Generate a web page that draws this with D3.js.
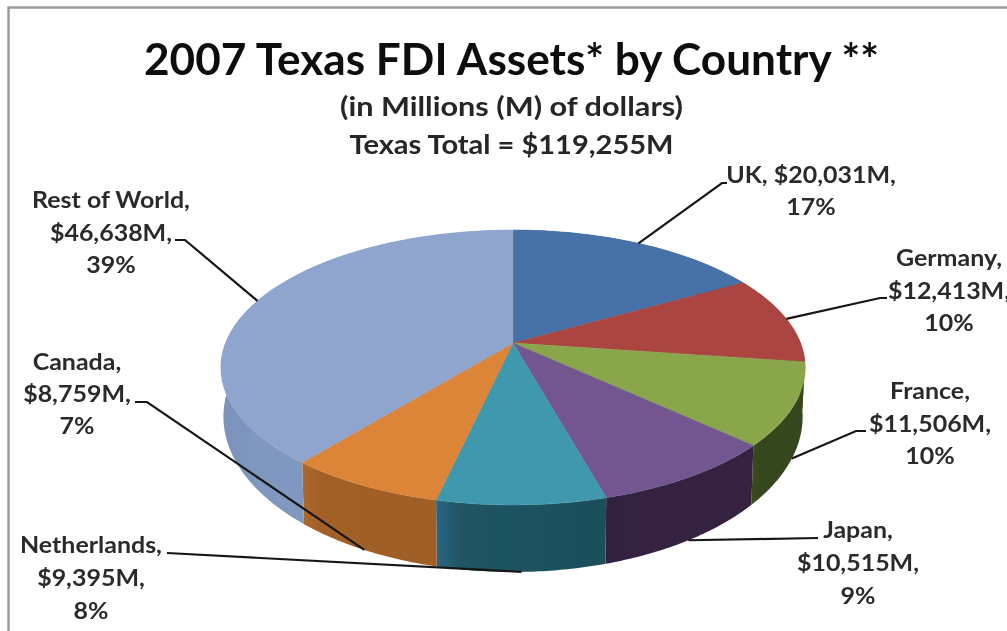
<!DOCTYPE html>
<html><head><meta charset="utf-8">
<script src="https://cdn.jsdelivr.net/npm/d3@7"></script>
<style>html,body{margin:0;padding:0;background:#fff;overflow:hidden}svg{display:block}text{font-family:Lato,"Open Sans",sans-serif;font-weight:700}</style>
</head><body><svg id="c" width="1007" height="631"></svg>
<script>
// data
const countries = ["UK","Germany","France","Japan","Netherlands","Canada","Rest of World"];
const assets = [20031,12413,11506,10515,9395,8759,46638];
const shares = [17,10,10,9,8,7,39];
const titleLines = ["2007 Texas FDI Assets* by Country **","(in Millions (M) of dollars)","Texas Total = $119,255M"];
// styles
const topColors = ["#4672a8","#ab4543","#8aa64c","#73568f","#3f98ae","#dc8438","#8fa5cd"];
const sideColors = [["#35567f","#35567f"],["#7f3331","#7f3331"],["#3c4d1d","#34461a"],["#2f2140","#35233f"],["#2a6684","#1d4f5b"],["#ad692c","#9f5e26"],["#7b93bb","#8199c0"]];
// label layout: centre x, first line y (centre), and leader route
const labelLayout = [
 {cx:811,y:175,lh:32,ring:"top",route:[[722,183],[727,183]]},
 {cx:949,y:258,lh:32.5,ring:"top",route:[[880,298],[887,298]]},
 {cx:930,y:391,lh:32.5,ring:"bottom",route:[[856,431],[866,431]]},
 {cx:858,y:530,lh:33,ring:"bottom",route:[[818,538]]},
 {cx:91,y:545,lh:33,ring:"bottom",route:[[167,553]]},
 {cx:77,y:362,lh:32,ring:"bottom",route:[[147,402],[135,402]]},
 {cx:111,y:200,lh:32.5,ring:"top",route:[[185,240],[175,240]]}
];
const svg = d3.select("#c");
const defs = svg.append("defs");
defs.append("filter").attr("id","soft").attr("x","-5%").attr("y","-5%").attr("width","110%").attr("height","110%")
  .append("feGaussianBlur").attr("stdDeviation",0.7);
const root = svg.append("g").attr("filter","url(#soft)");

// frame
root.append("path").attr("d",d3.line()([[8.5,631],[8.5,7.5],[1007,7.5]])).attr("fill","none").attr("stroke","#999").attr("stroke-width",2.4);

// perspective disc: k tilts the unit circle so the pie centre sits above the ellipse centre
const k = 0.178;
const rings = {
  top:{x:d3.scaleLinear().domain([0,1]).range([513,800.5]), y:d3.scaleLinear().domain([0,1]).range([343,476.1])},
  bottom:{x:d3.scaleLinear().domain([0,1]).range([513,798]), y:d3.scaleLinear().domain([0,1]).range([389,539.4])}
};
function project(a, ring){
  const u=Math.sin(a), v=-Math.cos(a), w=1-k*v;
  return [rings[ring].x(u/w), rings[ring].y(v/w)];
}
const pie = d3.pie().sort(null).value(d=>d);
const arcs = pie(assets);
const sample = (a0,a1)=>d3.range(0,1.0001,1/48).map(t=>a0+(a1-a0)*t);
const line = d3.line();

// side walls
arcs.forEach((d,i)=>{
  const id="side"+i;
  const g=defs.append("linearGradient").attr("id",id);
  g.append("stop").attr("offset","0%").attr("stop-color",sideColors[i][0]);
  g.append("stop").attr("offset","14%").attr("stop-color",d3.interpolateRgb(sideColors[i][0],sideColors[i][1])(0.8));
  g.append("stop").attr("offset","100%").attr("stop-color",sideColors[i][1]);
  const as=sample(d.startAngle,d.endAngle);
  const pts=as.map(a=>project(a,"top")).concat(as.slice().reverse().map(a=>project(a,"bottom")));
  root.append("path").attr("d",line(pts)+"Z").attr("fill",`url(#${id})`);
});
// top faces
arcs.forEach((d,i)=>{
  const pts=[[rings.top.x(0),rings.top.y(0)]].concat(sample(d.startAngle,d.endAngle).map(a=>project(a,"top")));
  root.append("path").attr("d",line(pts)+"Z").attr("fill",topColors[i]).attr("stroke",topColors[i]).attr("stroke-width",0.5);
});
// leaders
arcs.forEach((d,i)=>{
  const L=labelLayout[i];
  const anchor=project((d.startAngle+d.endAngle)/2,L.ring);
  root.append("path").attr("d",line([anchor].concat(L.route))).attr("fill","none").attr("stroke","#161616").attr("stroke-width",2.2);
});
// labels: stretched horizontally like the reference
const money=d3.format(",");
countries.forEach((c,i)=>{
  const L=labelLayout[i];
  const lines = c==="UK" ? [`UK, $${money(assets[i])}M,`,`${shares[i]}%`] : [`${c},`,`$${money(assets[i])}M,`,`${shares[i]}%`];
  lines.forEach((t,j)=>{
    const el=root.append("text").attr("x",L.cx).attr("y",L.y+j*L.lh).attr("dy","0.36em").attr("text-anchor","middle")
      .attr("font-size",23).attr("fill","#2b2b2b").text(t);
    el.attr("textLength",el.node().getComputedTextLength()*1.085).attr("lengthAdjust","spacingAndGlyphs");
  });
});
// titles
const tl=[{y:60,s:43,w:735},{y:106,s:27,w:343},{y:144,s:27,w:324}];
titleLines.forEach((t,i)=>{
  root.append("text").attr("x",511.5).attr("y",tl[i].y).attr("dy","0.36em").attr("text-anchor","middle")
    .attr("font-size",tl[i].s).attr("fill",i?"#262626":"#111").attr("textLength",tl[i].w).attr("lengthAdjust","spacingAndGlyphs").text(t);
});
</script></body></html>
